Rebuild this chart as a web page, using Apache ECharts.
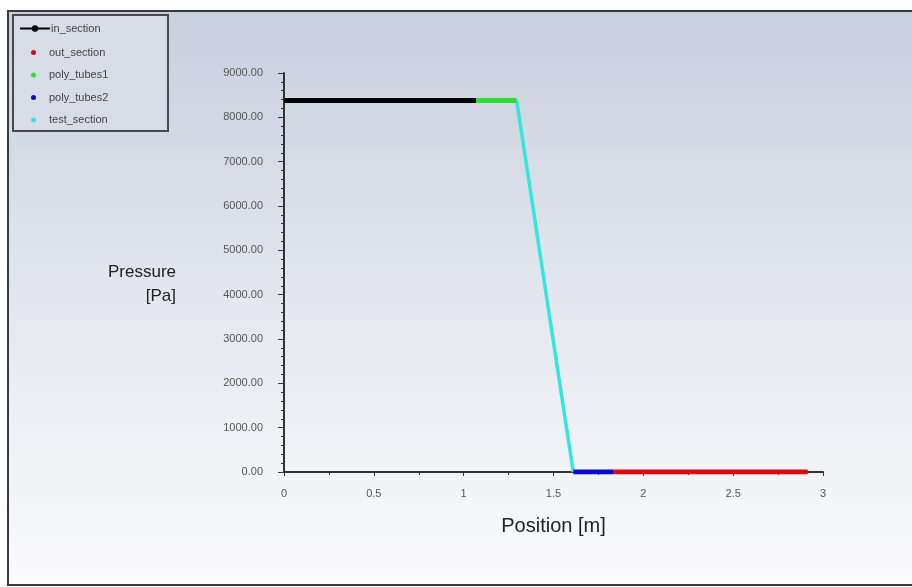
<!DOCTYPE html>
<html>
<head>
<meta charset="utf-8">
<script src="https://cdn.jsdelivr.net/npm/echarts@6/dist/echarts.min.js"></script>
<style>
  html, body { margin: 0; padding: 0; background: #fff; }
  #chart { width: 912px; height: 587px; }
</style>
</head>
<body>
<div id="chart"></div>
<script>
// pressure along the channel
const inSection = [[0, 8380], [1.07, 8380]];
const polyTubes1 = [[1.07, 8380], [1.295, 8380]];
const testSection = [[1.295, 8380], [1.61, 0]];
const polyTubes2 = [[1.61, 0], [1.833, 0]];
const outSection = [[1.833, 0], [2.915, 0]];

const seriesNames = ['in_section', 'out_section', 'poly_tubes1', 'poly_tubes2', 'test_section'];
const seriesColors = ['#000000', '#dd0a0a', '#2ee02e', '#0a0acc', '#33e6e0'];

const font = '"Liberation Sans Narrow", "Liberation Sans", Arial, sans-serif';

const chart = echarts.init(document.getElementById('chart'));

function line(name, data, width) {
  const idx = seriesNames.indexOf(name);
  return {
    name: name,
    type: 'line',
    data: data,
    symbol: 'circle',
    symbolSize: 6,
    showSymbol: false,
    color: seriesColors[idx],
    lineStyle: { width: width, color: seriesColors[idx] },
    z: name === 'test_section' ? 2 : 3,
    animation: false,
  };
}

const option = {
  animation: false,
  graphic: [
    {
      type: 'rect',
      shape: { x: 8, y: 11, width: 910, height: 574 },
      style: {
        fill: new echarts.graphic.LinearGradient(0, 0, 0, 1, [
          { offset: 0, color: '#c8cfdd' },
          { offset: 0.55, color: '#e6e9f0' },
          { offset: 1, color: '#fbfbfd' },
        ]),
        stroke: '#3a3a3a',
        lineWidth: 2,
      },
      z: -10,
      silent: true,
    },
    {
      type: 'rect',
      shape: { x: 13, y: 15, width: 155, height: 116 },
      style: { fill: '#d8dce6', stroke: '#4a4a4a', lineWidth: 2 },
      z: -5,
      silent: true,
    },
  ],
  legend: [
    {
      data: ['in_section'],
      left: 14,
      top: 18,
      itemWidth: 30,
      itemHeight: 8,
      itemGap: 0,
      textStyle: { fontFamily: font, fontSize: 11, color: '#444', padding: [0, 0, 0, -4] },
    },
    {
      data: seriesNames.slice(1).map((n) => ({ name: n, icon: 'circle' })),
      orient: 'vertical',
      left: 26,
      top: 42,
      itemWidth: 5,
      itemHeight: 5,
      itemGap: 11.5,
      textStyle: { fontFamily: font, fontSize: 11, color: '#444', padding: [0, 0, 0, 8] },
    },
  ],
  grid: { left: 284, right: 89, top: 73, bottom: 115 },
  xAxis: {
    type: 'value',
    min: 0,
    max: 3,
    interval: 0.5,
    name: 'Position [m]',
    nameLocation: 'middle',
    nameGap: 44,
    nameTextStyle: { fontFamily: font, fontSize: 20, color: '#222' },
    axisLine: { lineStyle: { color: '#333', width: 2 } },
    axisTick: { show: true, length: 4, lineStyle: { color: '#333' } },
    minorTick: { show: true, splitNumber: 2, length: 3, lineStyle: { color: '#333' } },
    splitLine: { show: false },
    axisLabel: { fontFamily: font, fontSize: 11, color: '#555', margin: 16 },
  },
  yAxis: {
    type: 'value',
    min: 0,
    max: 9000,
    interval: 1000,
    // leading empty line pushes the two-line title down to where it sits in the original
    name: '\nPressure\n[Pa]',
    nameLocation: 'middle',
    nameRotate: 0,
    nameGap: 108,
    nameTextStyle: { fontFamily: font, fontSize: 17, color: '#222', align: 'right', lineHeight: 24 },
    axisLine: { show: true, lineStyle: { color: '#333', width: 2 } },
    axisTick: { show: true, length: 6, lineStyle: { color: '#333' } },
    minorTick: { show: true, splitNumber: 5, length: 3, lineStyle: { color: '#333' } },
    splitLine: { show: false },
    axisLabel: {
      fontFamily: font,
      fontSize: 11,
      color: '#555',
      margin: 21,
      formatter: (v) => v.toFixed(2),
    },
  },
  series: [
    line('in_section', inSection, 5),
    line('out_section', outSection, 5),
    line('poly_tubes1', polyTubes1, 5),
    line('poly_tubes2', polyTubes2, 5),
    line('test_section', testSection, 3.5),
  ],
};

chart.setOption(option);
</script>
</body>
</html>
